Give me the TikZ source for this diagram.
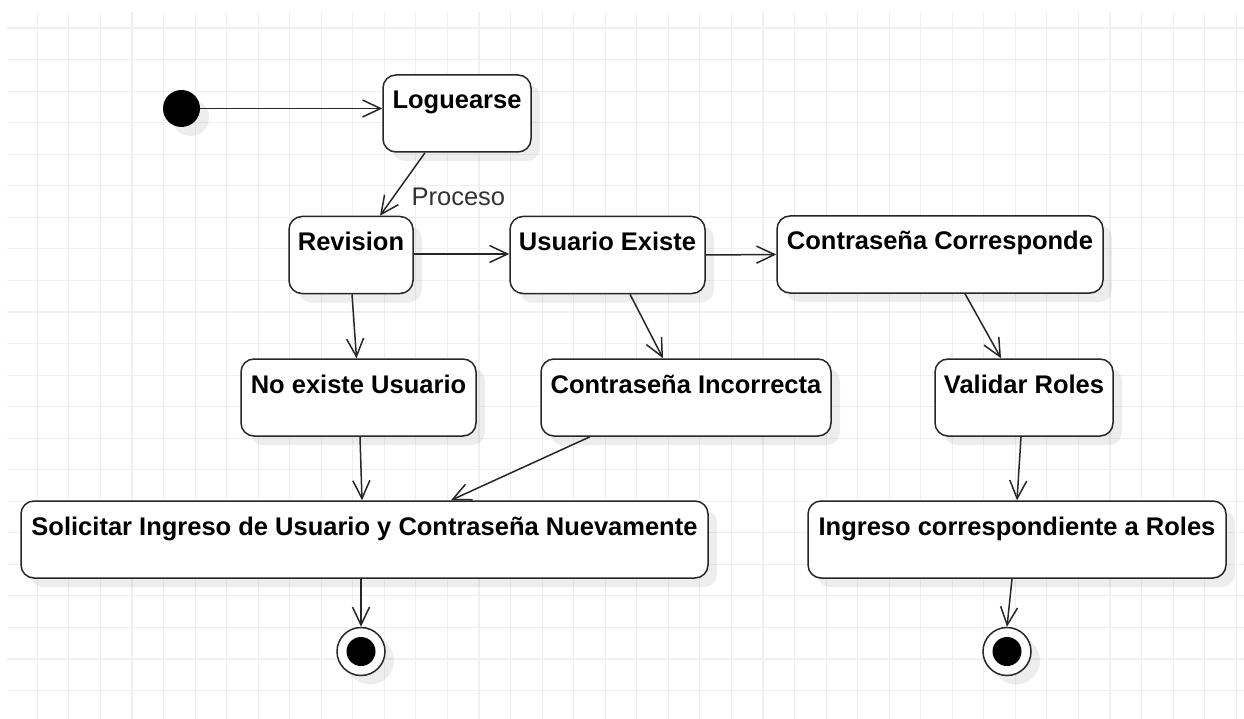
\documentclass[tikz,border=0pt]{standalone}
\usepackage{fontspec}
\setmainfont{Liberation Sans}
\usetikzlibrary{arrows.meta,shadows}

\tikzset{
  rejilla/.style={draw=black!6, line width=1.1pt},
  sombra/.style={drop shadow={shadow xshift=9pt, shadow yshift=-9pt, fill=black, opacity=0.07}},
  estado/.style={rectangle, rounded corners=13pt, draw=black!85, line width=1.5pt, fill=white,
    font=\fontsize{25.5}{30}\selectfont\bfseries, text height=26pt, text depth=35pt,
    inner xsep=6pt, inner ysep=8pt, minimum height=77pt, sombra},
  inicial/.style={circle, fill=black, minimum size=37pt, inner sep=0pt, sombra},
  final/.style={circle, draw=black!85, line width=1.5pt, fill=white, minimum size=48pt, inner sep=0pt,
    path picture={\fill[black] (path picture bounding box.center) circle (14.5pt);}, sombra},
  flecha/.style={-{Straight Barb[length=18pt, width=17pt]}, line width=1.5pt, draw=black!85},
  etiqueta/.style={font=\fontsize{25.5}{30}\selectfont, text=black!80}
}

\begin{document}
\begin{tikzpicture}[x=1pt, y=-1pt]
        \useasboundingbox (0, 0) rectangle (1244, 719);
        \fill[white] (0, 0) rectangle (1244, 719);
        \foreach \i in {0,...,38}
            \draw[rejilla] (37.3+31.55*\i, 12) -- (37.3+31.55*\i, 719);
        \foreach \j in {0,...,21}
            \draw[rejilla] (7, 28+31.55*\j) -- (1244, 28+31.55*\j);

        \node[inicial] (inicio) at (181.5, 108.5) {};
        \node[estado, minimum width=148pt] (loguearse) at (457, 113.5) {Loguearse};
        \node[estado, minimum width=124pt] (revision) at (351, 255) {Revision};
        \node[estado, minimum width=195pt] (existe) at (607.5, 255) {Usuario Existe};
        \node[estado, minimum width=326pt] (corresponde) at (940, 254.5) {Contraseña Corresponde};
        \node[estado, minimum width=235pt] (noexiste) at (358.5, 397.5) {No existe Usuario};
        \node[estado, minimum width=290pt] (incorrecta) at (686, 397.5) {Contraseña Incorrecta};
        \node[estado, minimum width=178pt] (validar) at (1024, 397.5) {Validar Roles};
        \node[estado, minimum width=687pt] (solicitar) at (364.5, 539.5) {Solicitar Ingreso de Usuario y Contraseña Nuevamente};
        \node[estado, minimum width=418pt] (ingreso) at (1017, 539.5) {Ingreso correspondiente a Roles};
        \node[final] (fin1) at (361, 651.5) {};
        \node[final] (fin2) at (1007, 651.5) {};

        \draw[flecha] (inicio.east) -- (inicio -| loguearse.west);
        \draw[flecha] ([xshift=-32pt]loguearse.south) -- ([xshift=29pt]revision.north) node[pos=0.7, right=14pt, etiqueta] {Proceso};
        \draw[flecha] ([yshift=1pt]revision.east) -- ([yshift=1pt]existe.west);
        \draw[flecha] (existe.east) -- (corresponde.west);
        \draw[flecha] ([xshift=1pt]revision.south) -- ([xshift=-2pt]noexiste.north);
        \draw[flecha] ([xshift=22.5pt]existe.south) -- ([xshift=-23pt]incorrecta.north);
        \draw[flecha] ([xshift=25pt]corresponde.south) -- ([xshift=-23pt]validar.north);
        \draw[flecha] ([xshift=1.5pt]noexiste.south) -- ([xshift=-2.5pt]solicitar.north);
        \draw[flecha] ([xshift=-96pt]incorrecta.south) -- ([xshift=86.5pt]solicitar.north);
        \draw[flecha] ([xshift=-3pt]validar.south) -- (ingreso.north);
        \draw[flecha] ([xshift=-3.5pt]solicitar.south) -- (fin1.north);
        \draw[flecha] ([xshift=-5pt]ingreso.south) -- (fin2.north);
    \end{tikzpicture}
\end{document}
